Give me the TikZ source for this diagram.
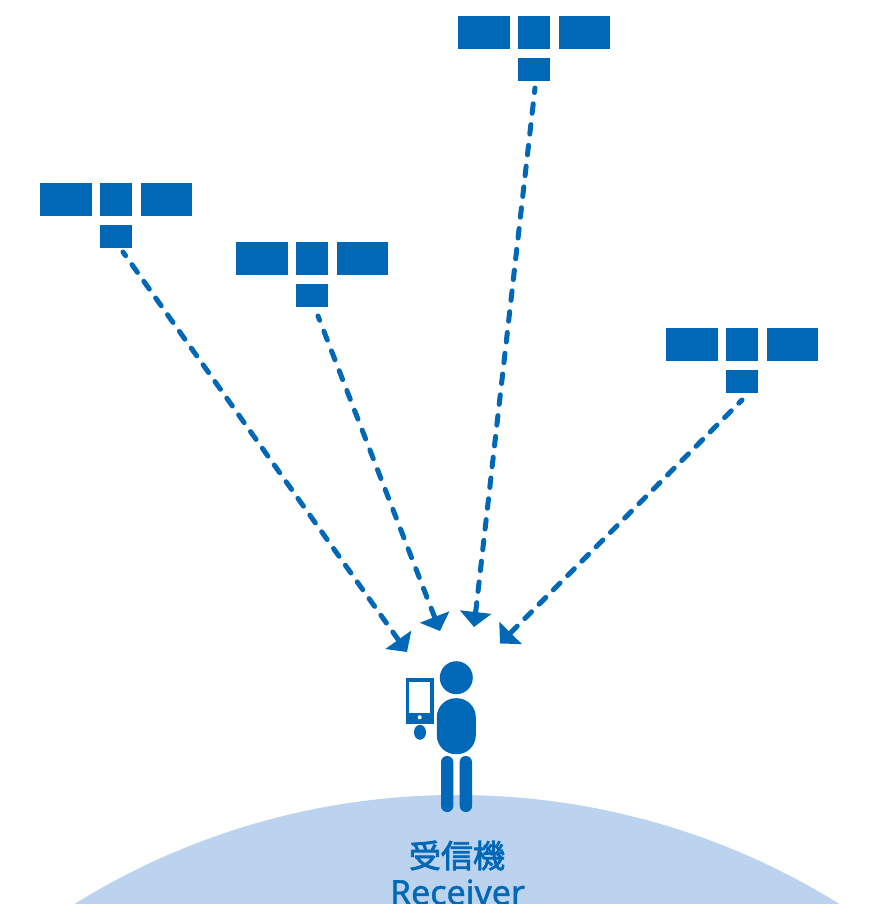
\documentclass[tikz,border=0pt]{standalone}
\usepackage{fontspec}
\usetikzlibrary{arrows.meta}
\setmainfont{Noto Sans}
\newfontfamily\jpfont[FakeBold=2.6]{Noto Sans CJK JP}
\newfontfamily\enfont[FakeBold=1.2]{Noto Sans}
\definecolor{sblue}{HTML}{0068B6}
\definecolor{ground}{HTML}{BBD3EF}
\tikzset{
  panel/.style={fill=sblue,draw=none,inner sep=0pt,minimum height=33pt,anchor=north west},
  bus/.style={fill=sblue,draw=none,inner sep=0pt,minimum width=32pt,minimum height=23pt,anchor=north west},
  signal/.style={draw=sblue,line width=5pt,line cap=round,dash pattern=on 9.5pt off #1pt,dash phase=5pt,
    -{Triangle[width=31pt,length=15pt,fill=sblue,sep=0pt]},shorten >=0pt},
  leg/.style={fill=sblue,draw=none,rounded corners=6pt},
  lbl/.style={text=sblue,inner sep=0pt},
}
\newcommand{\satellite}[3]{%
  \node[panel,minimum width=52pt] (#1a) at (#2,#3) {};
  \node[panel,minimum width=32pt] (#1b) at (#2+60,#3) {};
  \node[panel,minimum width=51pt] (#1c) at (#2+101,#3) {};
  \node[bus] (#1d) at (#2+60,#3+42) {};
}
\begin{document}
\begin{tikzpicture}[x=1pt,y=-1pt]
\useasboundingbox (0,0) rectangle (871,914);
\fill[white] (0,0) rectangle (871,914);
\begin{scope}
  \clip (0,0) rectangle (871,903.5);
  \fill[ground] (457,1520) circle[radius=725pt];
  \node[lbl,font=\jpfont\fontsize{32}{32}\selectfont] (jp) at (457,855.5) {受信機};
  \node[lbl,font=\enfont\fontsize{34}{34}\selectfont,anchor=base] (en) at (457.5,904.5) {Receiver};
\end{scope}
\satellite{s1}{40}{183}
\satellite{s2}{236}{242}
\satellite{s3}{458}{16}
\satellite{s4}{666}{328}
% person
\fill[sblue] (456.3,677.7) circle[radius=16.5pt];
\node[fill=sblue,draw=none,rounded corners=19pt,inner sep=0pt,minimum width=39pt,minimum height=56pt] (body) at (456.3,726.2) {};
\fill[leg] (441,756) rectangle (453.3,812);
\fill[leg] (459.7,756) rectangle (472,812);
% phone
\fill[sblue] (405.7,678) rectangle (434,724);
\fill[white] (409,681.7) rectangle (430.3,712.7);
\fill[white] (419.7,717.3) circle[radius=2pt];
\fill[sblue] (420,732.3) ellipse[x radius=6pt,y radius=7.5pt];
% signals
\coordinate (t1) at (407,652);
\coordinate (t2) at (440,631);
\coordinate (t3) at (474,627);
\coordinate (t4) at (500,643.5);
\coordinate (f1) at (123,252);
\coordinate (f2) at (318,316);
\coordinate (f3) at (535,88);
\coordinate (f4) at (742,400);
\draw[signal=10.98] (f1) -- (t1);
\draw[signal=11.72] (f2) -- (t2);
\draw[signal=11.42] (f3) -- (t3);
\draw[signal=10.74] (f4) -- (t4);
\end{tikzpicture}
\end{document}
